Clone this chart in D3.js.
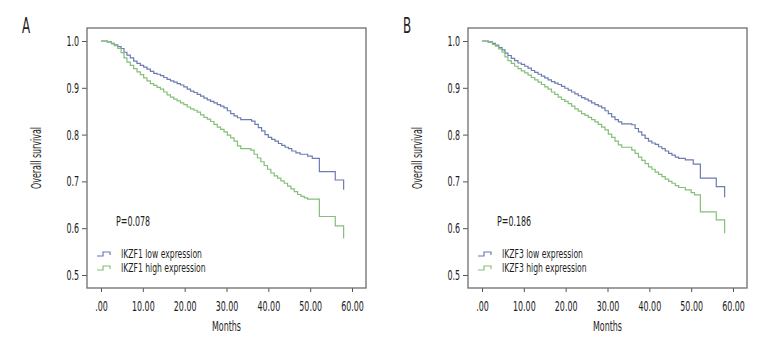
<!DOCTYPE html>
<html lang="en">
<head>
    <meta charset="UTF-8">
    <title>Overall survival by IKZF1 / IKZF3 expression</title>
    <script src="https://d3js.org/d3.v7.min.js"></script>
    <style>
        body { margin: 0; background: #fff; }
        svg text {
            font-family: "DejaVu Sans Condensed", "DejaVu Sans", sans-serif;
            font-size: 14px;
            fill: #1e1e1e;
        }
        .legend-text { font-size: 12px; }
        .frame { fill: none; stroke: #6e6e6e; stroke-width: 1.3px; }
        .tick-line { stroke: #555; stroke-width: 1px; }
        .km { fill: none; stroke-width: 1.2px; }
    </style>
</head>
<body>
    <svg id="chart" width="780" height="360"></svg>

    <script>
        // Kaplan-Meier steps: [months, survival]
        const ikzf1Low = [[0,1.0],[1.5,0.998],[2.5,0.995],[3.2,0.992],[4,0.988],[4.8,0.984],[5.5,0.976],[6.2,0.970],[7,0.964],[7.8,0.957],[8.6,0.952],[9.4,0.948],[10.2,0.944],[11,0.940],[11.8,0.935],[12.6,0.931],[13.4,0.929],[14.2,0.926],[15,0.922],[15.8,0.918],[16.6,0.915],[17.4,0.912],[18.2,0.909],[19,0.906],[19.8,0.902],[20.6,0.897],[21.4,0.893],[22.2,0.890],[23,0.886],[23.8,0.882],[24.6,0.878],[25.4,0.874],[26.2,0.871],[27,0.868],[27.8,0.864],[28.6,0.861],[29.4,0.857],[30.2,0.851],[31,0.845],[31.8,0.840],[32.6,0.836],[33.4,0.832],[36,0.829],[36.8,0.822],[37.6,0.815],[38.4,0.808],[39.2,0.800],[40,0.794],[40.8,0.790],[41.6,0.786],[42.4,0.781],[43.2,0.777],[44,0.773],[44.8,0.770],[45.6,0.765],[46.6,0.761],[47.6,0.758],[49.4,0.754],[50.5,0.749],[52.2,0.721],[56,0.703],[58,0.682]];
        const ikzf1High = [[0,1.0],[1.5,0.998],[2.5,0.994],[3.2,0.990],[4,0.984],[4.8,0.975],[5.5,0.964],[6.2,0.955],[7,0.948],[7.8,0.941],[8.6,0.934],[9.4,0.928],[10.2,0.921],[11,0.915],[11.8,0.909],[12.6,0.905],[13.4,0.901],[14.2,0.897],[15,0.891],[15.8,0.885],[16.6,0.880],[17.4,0.876],[18.2,0.872],[19,0.868],[19.8,0.864],[20.6,0.859],[21.4,0.855],[22.2,0.852],[23,0.848],[23.8,0.842],[24.6,0.837],[25.4,0.833],[26.2,0.828],[27,0.822],[27.8,0.816],[28.6,0.811],[29.4,0.806],[30.2,0.799],[31,0.793],[31.8,0.786],[32.6,0.776],[33.4,0.770],[35.8,0.767],[36.6,0.758],[37.4,0.750],[38.2,0.742],[39,0.734],[39.8,0.726],[40.6,0.718],[41.4,0.712],[42.2,0.707],[43,0.701],[43.8,0.696],[44.6,0.690],[45.4,0.684],[46.2,0.678],[47,0.672],[47.8,0.668],[48.6,0.665],[49.4,0.662],[52.2,0.625],[56,0.605],[58,0.578]];
        const ikzf3Low = [[0,1.0],[1.5,0.998],[2.5,0.995],[3.2,0.991],[4,0.986],[4.8,0.981],[5.5,0.974],[6.2,0.969],[7,0.963],[7.8,0.958],[8.6,0.953],[9.4,0.950],[10.2,0.946],[11,0.942],[11.8,0.937],[12.6,0.933],[13.4,0.929],[14.2,0.925],[15,0.921],[15.8,0.917],[16.6,0.913],[17.4,0.910],[18.2,0.907],[19,0.903],[19.8,0.899],[20.6,0.895],[21.4,0.891],[22.2,0.887],[23,0.883],[23.8,0.879],[24.6,0.876],[25.4,0.872],[26.2,0.868],[27,0.864],[27.8,0.861],[28.6,0.857],[29.4,0.851],[30.2,0.845],[31,0.838],[31.8,0.832],[32.6,0.827],[33.4,0.823],[35.8,0.821],[36.6,0.813],[37.4,0.806],[38.2,0.799],[39,0.792],[39.8,0.786],[40.6,0.782],[41.4,0.779],[42.2,0.774],[43,0.770],[43.8,0.765],[44.6,0.760],[45.4,0.756],[46.2,0.752],[47,0.749],[48.6,0.746],[50.5,0.737],[52.2,0.707],[56,0.689],[58,0.666]];
        const ikzf3High = [[0,1.0],[1.5,0.997],[2.5,0.993],[3.2,0.989],[4,0.983],[4.8,0.976],[5.5,0.966],[6.2,0.958],[7,0.952],[7.8,0.946],[8.6,0.941],[9.4,0.936],[10.2,0.932],[11,0.927],[11.8,0.922],[12.6,0.917],[13.4,0.912],[14.2,0.907],[15,0.902],[15.8,0.897],[16.6,0.891],[17.4,0.886],[18.2,0.880],[19,0.875],[19.8,0.871],[20.6,0.866],[21.4,0.861],[22.2,0.855],[23,0.850],[23.8,0.845],[24.6,0.841],[25.4,0.837],[26.2,0.832],[27,0.827],[27.8,0.822],[28.6,0.816],[29.4,0.810],[30.2,0.801],[31,0.794],[31.8,0.786],[32.6,0.778],[33.4,0.773],[35.8,0.767],[36.6,0.760],[37.4,0.752],[38.2,0.745],[39,0.738],[39.8,0.731],[40.6,0.726],[41.4,0.720],[42.2,0.715],[43,0.710],[43.8,0.705],[44.6,0.700],[45.4,0.696],[46.2,0.691],[47,0.687],[48.6,0.682],[50,0.676],[50.8,0.671],[52.2,0.635],[56,0.618],[58,0.589]];

        const xTicks = [0, 10, 20, 30, 40, 50, 60];
        const yTicks = [0.5, 0.6, 0.7, 0.8, 0.9, 1.0];
        const panels = [
            { letter: "A", gene: "IKZF1", pValue: "P=0.078", low: ikzf1Low, high: ikzf1High },
            { letter: "B", gene: "IKZF3", pValue: "P=0.186", low: ikzf3Low, high: ikzf3High }
        ];
        const lowColor = "#6d7bb3";
        const highColor = "#84c078";

        // the original uses a very narrow font, squeeze glyphs horizontally
        const squeeze = 0.63;

        const svg = d3.select("#chart");

        const frameW = 279, frameTop = 28, frameBottom = 288;

        function label(g, x, y, txt, anchor, sq) {
            return g.append("text")
                .attr("transform", `translate(${x},${y}) scale(${sq || squeeze},1)`)
                .attr("text-anchor", anchor || "start")
                .text(txt);
        }

        panels.forEach((p, i) => {
            const left = 87 + i * 381;
            const g = svg.append("g");

            const x = d3.scaleLinear().domain([0, 60]).range([left + 14, left + 265]);
            const y = d3.scaleLinear().domain([0.5, 1.0]).range([275, 41]);

            // panel letter
            label(g, left - 65, 33, p.letter).style("font-size", "21px");

            // axes
            const xAxis = d3.axisBottom(x)
                .tickValues(xTicks)
                .tickSize(4)
                .tickPadding(9)
                .tickFormat(d => d === 0 ? ".00" : d3.format(".2f")(d));
            const gx = g.append("g")
                .attr("transform", `translate(0,${frameBottom})`)
                .call(xAxis);
            gx.select(".domain").remove();
            gx.selectAll(".tick line").attr("class", "tick-line");
            gx.selectAll("text")
                .attr("fill", "#1e1e1e")
                .attr("transform", `scale(${squeeze},1)`);

            const yAxis = d3.axisLeft(y)
                .tickValues(yTicks)
                .tickSize(5)
                .tickPadding(3)
                .tickFormat(d3.format(".1f"));
            const gy = g.append("g")
                .attr("transform", `translate(${left},0)`)
                .call(yAxis);
            gy.select(".domain").remove();
            gy.selectAll(".tick line").attr("class", "tick-line");
            gy.selectAll("text")
                .attr("fill", "#1e1e1e")
                .attr("x", -8 / squeeze)
                .attr("transform", `scale(${squeeze},1)`);
            gx.attr("font-size", null).attr("font-family", null);
            gy.attr("font-size", null).attr("font-family", null);

            // frame
            g.append("rect")
                .attr("class", "frame")
                .attr("x", left)
                .attr("y", frameTop)
                .attr("width", frameW)
                .attr("height", frameBottom - frameTop);

            // axis titles
            label(g, left + frameW / 2, 331, "Months", "middle");
            g.append("text")
                .attr("transform", `translate(${left - 46},${(frameTop + frameBottom) / 2}) rotate(-90) scale(${squeeze},1)`)
                .attr("text-anchor", "middle")
                .text("Overall survival");

            // survival curves
            const line = d3.line()
                .x(d => x(d[0]))
                .y(d => y(d[1]))
                .curve(d3.curveStepAfter);

            g.append("path").datum(p.low).attr("class", "km")
                .attr("stroke", lowColor).attr("d", line);
            g.append("path").datum(p.high).attr("class", "km")
                .attr("stroke", highColor).attr("d", line);

            // p value
            label(g, left + 29, 226, p.pValue);

            // legend
            const legend = [
                { label: `${p.gene} low expression`, color: lowColor },
                { label: `${p.gene} high expression`, color: highColor }
            ];
            legend.forEach((d, j) => {
                const lg = g.append("g")
                    .attr("transform", `translate(${left + 10},${254 + j * 14})`);
                lg.append("path")
                    .attr("d", "M0,2H6V-2H13V1")
                    .attr("fill", "none")
                    .attr("stroke", d.color)
                    .attr("stroke-width", 1.2);
                label(lg, 24, 4, d.label, "start", 0.71).attr("class", "legend-text");
            });
        });
    </script>
</body>
</html>
